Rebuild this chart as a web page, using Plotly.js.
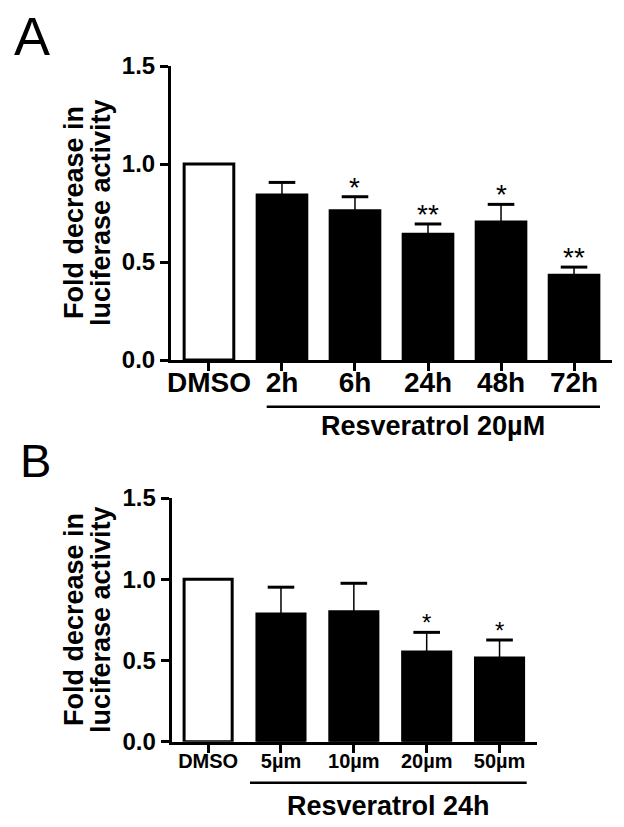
<!DOCTYPE html>
<html>
<head>
<meta charset="utf-8">
<script src="https://cdn.plot.ly/plotly-3.0.1.min.js"></script>
<style>html,body{margin:0;padding:0;background:#fff;}#chart{width:624px;height:827px;}</style>
</head>
<body>
<div id="chart"></div>
<script>
// ---- Panel A data ----
var catsA = ['DMSO', '2h', '6h', '24h', '48h', '72h'];
var meanA = [1.0, 0.842, 0.762, 0.641, 0.704, 0.432];
var semA  = [0, 0.064, 0.071, 0.053, 0.090, 0.042];
var sigA  = ['', '', '*', '**', '*', '**'];
var groupA = 'Resveratrol 20\u00B5M';

// ---- Panel B data ----
var catsB = ['DMSO', '5\u00B5m', '10\u00B5m', '20\u00B5m', '50\u00B5m'];
var meanB = [1.0, 0.786, 0.800, 0.552, 0.515];
var semB  = [0, 0.165, 0.175, 0.121, 0.111];
var sigB  = ['', '', '', '*', '*'];
var groupB = 'Resveratrol 24h';

var yTitle1 = 'Fold decrease in';
var yTitle2 = 'luciferase activity';

var W = 624, H = 827;
function px(x) { return x / W; }
function py(y) { return (H - y) / H; }

var FONT = 'Liberation Sans, Arial, sans-serif';

function panelTraces(cats, mean, sem, xa, ya, barWidth) {
  var colors = cats.map(function (c) { return c === 'DMSO' ? '#ffffff' : '#000000'; });
  var capX = [], capY = [];
  cats.forEach(function (c, i) { if (sem[i] > 0) { capX.push(c); capY.push(mean[i] + sem[i]); } });
  return [
    {
      type: 'bar', x: cats, y: mean, xaxis: xa, yaxis: ya,
      width: barWidth,
      marker: { color: colors, line: { color: '#000', width: 3 } },
      error_y: { type: 'data', symmetric: false, array: sem,
                 arrayminus: sem.map(function () { return 0; }),
                 color: '#000', thickness: 1.5, width: 0 },
      hoverinfo: 'none'
    },
    {
      type: 'scatter', mode: 'markers', x: capX, y: capY, xaxis: xa, yaxis: ya,
      marker: { symbol: 'line-ew', size: 19, color: '#000', line: { color: '#000', width: 3 } },
      cliponaxis: false, hoverinfo: 'none'
    }
  ];
}

function starAnns(cats, mean, sem, sig, xr, yr, size, shift) {
  var out = [];
  cats.forEach(function (c, i) {
    if (!sig[i]) return;
    out.push({
      text: sig[i], xref: xr, yref: yr, x: c, y: mean[i] + sem[i],
      xanchor: 'center', yanchor: 'bottom', yshift: shift, showarrow: false,
      font: { family: FONT, size: size, color: '#000' }
    });
  });
  return out;
}

var data = []
  .concat(panelTraces(catsA, meanA, semA, 'x', 'y', 0.68))
  .concat(panelTraces(catsB, meanB, semB, 'x2', 'y2', 0.66));

function xAxis(domain, anchor, range, fsize, standoff) {
  return {
    domain: domain, anchor: anchor, type: 'category', range: range,
    showline: true, linewidth: 3, linecolor: '#000',
    ticks: 'outside', ticklen: 8, tickwidth: 3, tickcolor: '#000',
    ticklabelstandoff: standoff,
    tickfont: { family: FONT, size: fsize, color: '#000', weight: 'bold' },
    showgrid: false, zeroline: false, fixedrange: true
  };
}
function yAxis(domain, anchor) {
  return {
    domain: domain, anchor: anchor, range: [0, 1.5], dtick: 0.5, tick0: 0,
    tickformat: '.1f',
    showline: true, linewidth: 3, linecolor: '#000',
    ticks: 'outside', ticklen: 8, tickwidth: 3, tickcolor: '#000',
    tickfont: { family: FONT, size: 24, color: '#000', weight: 'bold' },
    showgrid: false, zeroline: false, fixedrange: true
  };
}

function ann(text, x, y, size, opts) {
  var a = {
    text: text, xref: 'paper', yref: 'paper', x: px(x), y: py(y),
    xanchor: 'center', yanchor: 'middle', showarrow: false,
    font: { family: FONT, size: size, color: '#000', weight: 'bold' }
  };
  for (var k in opts) a[k] = opts[k];
  return a;
}

var layout = {
  width: W, height: H,
  margin: { l: 0, r: 0, t: 0, b: 0 },
  paper_bgcolor: '#fff', plot_bgcolor: '#fff',
  showlegend: false, bargap: 0,
  xaxis:  xAxis([px(171), px(612)], 'y',  [-0.52, 5.52], 28, -13),
  yaxis:  yAxis([py(360), py(66)], 'x'),
  xaxis2: xAxis([px(171.7), px(536.7)], 'y2', [-0.5, 4.51], 20, -9),
  yaxis2: yAxis([py(741.7), py(498)], 'x2'),
  annotations: [
    ann('A', 12, 36, 54, { xanchor: 'left', font: { family: FONT, size: 54, color: '#000' } }),
    ann('B', 18, 460, 47, { xanchor: 'left', font: { family: FONT, size: 47, color: '#000' } }),
    ann(yTitle1, 74, 213, 27, { textangle: -90 }),
    ann(yTitle2, 101, 213, 27, { textangle: -90 }),
    ann(yTitle1, 74, 620, 27, { textangle: -90 }),
    ann(yTitle2, 101, 620, 27, { textangle: -90 }),
    ann(groupA, 433, 426, 27),
    ann(groupB, 388, 806, 27)
  ]
  .concat(starAnns(catsA, meanA, semA, sigA, 'x', 'y', 28, -8))
  .concat(starAnns(catsB, meanB, semB, sigB, 'x2', 'y2', 24, -6)),
  shapes: [
    { type: 'line', xref: 'paper', yref: 'paper', x0: px(266.7), x1: px(600), y0: py(406.7), y1: py(406.7),
      line: { color: '#000', width: 2.5 } },
    { type: 'line', xref: 'paper', yref: 'paper', x0: px(250), x1: px(526.7), y0: py(782.7), y1: py(782.7),
      line: { color: '#000', width: 2.5 } }
  ]
};

Plotly.newPlot('chart', data, layout, { staticPlot: true, displayModeBar: false });
</script>
</body>
</html>
